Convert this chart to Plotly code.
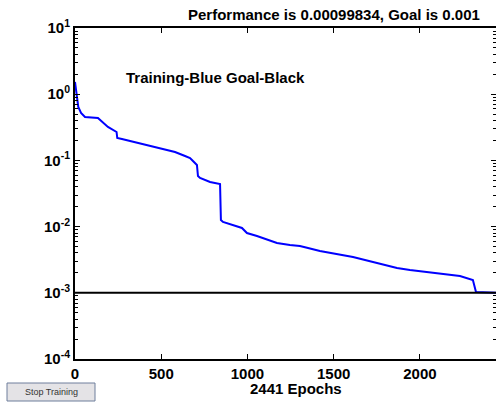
import plotly.graph_objects as go

# Data
epochs = [0, 10, 19, 35, 58, 133, 157, 191, 241, 245, 272, 388, 481, 580, 638,
          667, 684, 707, 713, 725, 783, 841, 846, 858, 968, 997, 1055, 1171, 1246,
          1304, 1351, 1420, 1612, 1751, 1867, 1942, 2075, 2232, 2307, 2325, 2441]
performance = [1.53, 0.876, 0.641, 0.520, 0.452, 0.437, 0.380, 0.320, 0.2685, 0.218,
               0.2106, 0.1769, 0.1539, 0.1339, 0.1165, 0.1087, 0.0979, 0.0852, 0.0581,
               0.0542, 0.0472, 0.0440, 0.01258, 0.01174, 0.00953, 0.00800, 0.00721,
               0.00565, 0.00527, 0.00509, 0.00475, 0.00428, 0.00347, 0.00282, 0.00237,
               0.00221, 0.00199, 0.00179, 0.00156, 0.00103, 0.00099834]
goal_x = [0, 2441]
goal_y = [0.001, 0.001]

x_ticks = [0, 500, 1000, 1500, 2000]
y_ticks = [1e-4, 1e-3, 1e-2, 1e-1, 1e0, 1e1]
y_tick_text = ["10<sup>-4</sup>", "10<sup>-3</sup>", "10<sup>-2</sup>",
               "10<sup>-1</sup>", "10<sup>0</sup>", "10<sup>1</sup>"]
y_minor = [k * 10.0 ** e for e in range(-4, 1) for k in range(2, 10)]

title_text = "Performance is 0.00099834, Goal is 0.001"
legend_text = "Training-Blue Goal-Black"
xlabel_text = "2441 Epochs"
button_text = "Stop Training"

FONT = "Liberation Sans, Arial, sans-serif"

fig = go.Figure()
fig.add_trace(go.Scatter(x=epochs, y=performance, mode="lines",
                         line=dict(color="#0000ff", width=2), showlegend=False,
                         hoverinfo="skip"))
fig.add_trace(go.Scatter(x=goal_x, y=goal_y, mode="lines",
                         line=dict(color="#000000", width=2), showlegend=False,
                         hoverinfo="skip"))
fig.add_trace(go.Scatter(x=[None], y=[None], yaxis="y2", showlegend=False,
                         hoverinfo="skip"))

W, H = 496, 406
L, R, T, B = 75, 0, 28, 47
pw, ph = W - L - R, H - T - B

def px(x):
    return (x - L) / pw

def py(y):
    return (H - B - y) / ph

fig.update_layout(
    width=W, height=H,
    margin=dict(l=L, r=R, t=T, b=B, pad=0),
    paper_bgcolor="white", plot_bgcolor="white",
    font=dict(family=FONT, size=15, color="black"),
    xaxis=dict(range=[0, 2441], tickvals=x_ticks,
               ticktext=[f"<b>{v}</b>" for v in x_ticks],
               ticks="inside", ticklen=5, tickwidth=1, tickcolor="black",
               showline=True, linecolor="black", linewidth=2, mirror="ticks",
               showgrid=False, zeroline=False, tickfont=dict(size=15)),
    yaxis=dict(type="log", range=[-4, 1], tickmode="array", tickvals=y_ticks,
               ticktext=[f"<b>{t}</b>" for t in y_tick_text],
               ticks="inside", ticklen=5, tickwidth=1, tickcolor="black",
               minor=dict(tickmode="array", tickvals=y_minor, ticks="inside",
                          ticklen=3, tickcolor="black", showgrid=False),
               showline=True, linecolor="black", linewidth=2, mirror=False,
               showgrid=False, zeroline=False, tickfont=dict(size=15)),
    yaxis2=dict(type="log", range=[-4, 1], overlaying="y", side="right",
                tickmode="array", tickvals=y_ticks, showticklabels=False,
                ticks="inside", ticklen=5, tickcolor="black",
                minor=dict(tickmode="array", tickvals=y_minor, ticks="inside",
                           ticklen=3, tickcolor="black", showgrid=False),
                showline=False, showgrid=False, zeroline=False),
    showlegend=False,
)

fig.add_annotation(text=f"<b>{title_text}</b>", xref="paper", yref="paper",
                   x=px(334), y=py(15), xanchor="center", yanchor="middle",
                   showarrow=False, font=dict(size=15))
fig.add_annotation(text=f"<b>{legend_text}</b>", xref="paper", yref="paper",
                   x=px(215), y=py(78), xanchor="center", yanchor="middle",
                   showarrow=False, font=dict(size=15))
fig.add_annotation(text=f"<b>{xlabel_text}</b>", xref="paper", yref="paper",
                   x=px(296), y=py(389), xanchor="center", yanchor="middle",
                   showarrow=False, font=dict(size=15))

# Stop Training button
fig.add_shape(type="rect", xref="paper", yref="paper",
              x0=px(7), x1=px(95), y0=py(401), y1=py(383),
              fillcolor="#e4e3e6", line=dict(color="#6f7f9c", width=1))
fig.add_annotation(text=button_text, xref="paper", yref="paper",
                   x=px(51), y=py(392), xanchor="center", yanchor="middle",
                   showarrow=False, font=dict(size=9, color="#333333"))

fig.write_html("out.html",
               config={"displayModeBar": False, "staticPlot": True},
               post_script="document.body.style.margin='0';"
                           "document.body.style.overflow='hidden';")
